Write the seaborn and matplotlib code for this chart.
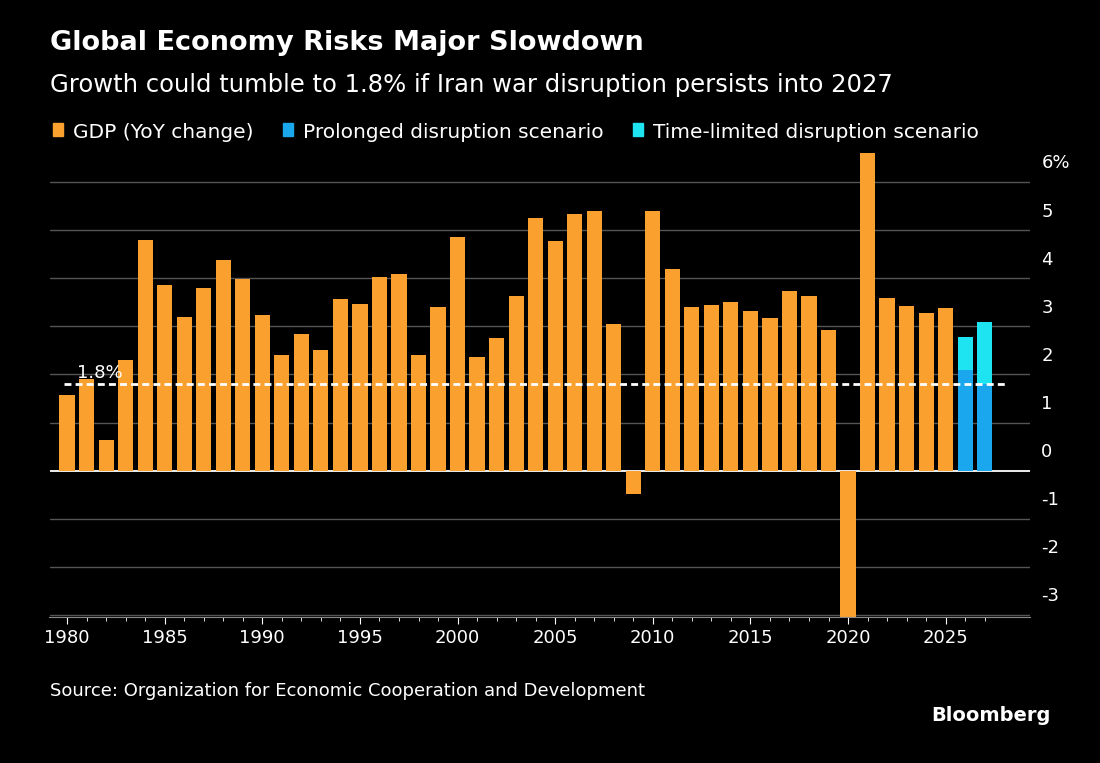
import matplotlib
matplotlib.use("Agg")
import matplotlib.pyplot as plt
import seaborn as sns
import pandas as pd
import numpy as np

years = list(range(1980, 2026))
gdp = [1.58, 1.9, 0.64, 2.3, 4.8, 3.86, 3.2, 3.8, 4.38, 3.98, 3.24, 2.4, 2.84, 2.5, 3.57, 3.46,
       4.02, 4.09, 2.4, 3.4, 4.85, 2.37, 2.76, 3.63, 5.25, 4.77, 5.33, 5.39, 3.05, -0.48,
       5.39, 4.19, 3.4, 3.44, 3.5, 3.32, 3.17, 3.73, 3.63, 2.93, -3.1, 6.6, 3.59, 3.42, 3.28, 3.38]
scen_years = [2026, 2027]
time_limited = [2.78, 3.09]
prolonged = [2.1, 1.8]
yticks = [-3, -2, -1, 0, 1, 2, 3, 4, 5, 6]

sns.set_style("dark")
plt.rcParams["font.family"] = ["DejaVu Sans"]
fig = plt.figure(figsize=(11, 7.63), dpi=100, facecolor="black")
ax = fig.add_axes([0.045, 0.191, 0.891, 0.612])
ax.set_facecolor("black")

for v in yticks:
    ax.axhline(v, color="white" if v == 0 else "#555555", lw=1.3 if v == 0 else 1, zorder=0)
    ax.text(1.012, v + 0.2, f"{v}%" if v == 6 else str(v), transform=ax.get_yaxis_transform(),
            color="white", fontsize=13, ha="left", va="bottom")

w = 0.78
kw = dict(native_scale=True, width=w, ax=ax, saturation=1, linewidth=0, edgecolor="none")
sns.barplot(x=years, y=gdp, color="#f9a02e", zorder=2, **kw)
sns.barplot(x=scen_years, y=time_limited, color="#1de4f0", zorder=2, **kw)
sns.barplot(x=scen_years, y=prolonged, color="#1aa7ee", zorder=3, **kw)

ax.axhline(1.8, xmin=0.015, xmax=0.975, color="white", ls=(0, (2.5, 1.5)), lw=2, zorder=4)
ax.text(1980.5, 1.85, "1.8%", color="white", fontsize=13, ha="left", va="bottom", zorder=5)

ax.set_xlim(1979.1, 2029.3)
ax.set_ylim(-3.05, 6.66)
ax.set_yticks([])
ax.set_xticks(range(1980, 2026, 5))
ax.set_xticks(range(1980, 2028), minor=True)
ax.tick_params(axis="x", colors="white", labelsize=13, length=5, which="both", bottom=True, direction="out")
ax.tick_params(axis="x", which="minor", length=3)
for s in ["top", "right", "left"]:
    ax.spines[s].set_visible(False)
ax.spines["bottom"].set_color("#888888")
ax.grid(False)
ax.set_xlabel("")
ax.set_ylabel("")

fig.text(0.045, 0.935, "Global Economy Risks Major Slowdown", color="white", fontsize=19.5, fontweight="bold")
fig.text(0.045, 0.88, "Growth could tumble to 1.8% if Iran war disruption persists into 2027", color="white", fontsize=17.5)
lx = 0.048
for lab, c in [("GDP (YoY change)", "#f9a02e"), ("Prolonged disruption scenario", "#1aa7ee"),
               ("Time-limited disruption scenario", "#1de4f0")]:
    fig.patches.append(plt.Rectangle((lx, 0.822), 0.0095, 0.0165, color=c, transform=fig.transFigure))
    t = fig.text(lx + 0.018, 0.819, lab, color="white", fontsize=14.5)
    fig.canvas.draw()
    bb = t.get_window_extent()
    lx = bb.x1 / 1100 + 0.027
fig.text(0.045, 0.088, "Source: Organization for Economic Cooperation and Development", color="white", fontsize=13)
fig.text(0.955, 0.055, "Bloomberg", color="white", fontsize=14, fontweight="bold", ha="right")
fig.savefig("out.png", dpi=100, facecolor="black")
